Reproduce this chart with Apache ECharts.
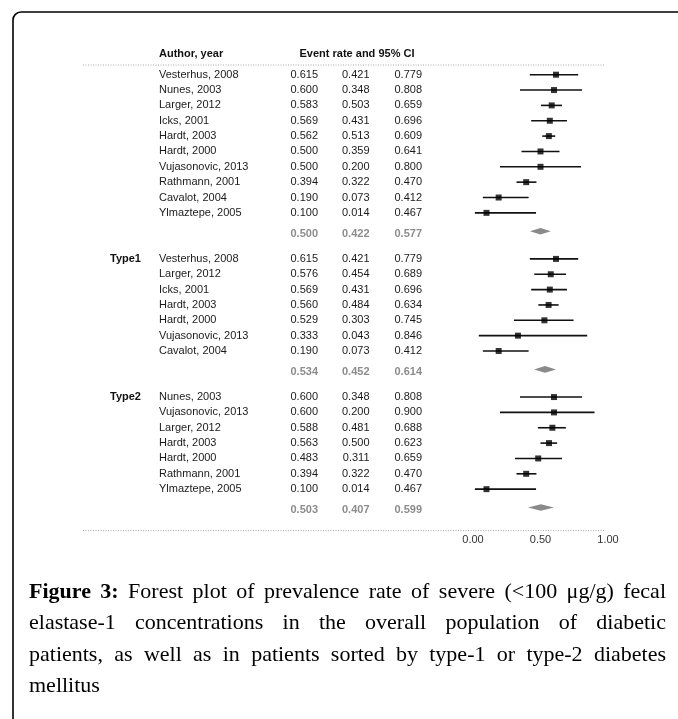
<!DOCTYPE html>
<html>
<head>
<meta charset="utf-8">
<script src="https://cdn.jsdelivr.net/npm/echarts@6/dist/echarts.min.js"></script>
<style>
  html, body { margin: 0; padding: 0; background: #fff; }
  #chart { width: 678px; height: 719px; }
</style>
</head>
<body>
<div id="chart"></div>
<script>
// overall population
const overallAuthors = ["Vesterhus, 2008", "Nunes, 2003", "Larger, 2012", "Icks, 2001", "Hardt, 2003",
  "Hardt, 2000", "Vujasonovic, 2013", "Rathmann, 2001", "Cavalot, 2004", "Ylmaztepe, 2005"];
const overallRate = [0.615, 0.600, 0.583, 0.569, 0.562, 0.500, 0.500, 0.394, 0.190, 0.100];
const overallLower = [0.421, 0.348, 0.503, 0.431, 0.513, 0.359, 0.200, 0.322, 0.073, 0.014];
const overallUpper = [0.779, 0.808, 0.659, 0.696, 0.609, 0.641, 0.800, 0.470, 0.412, 0.467];
const overallSummary = [0.500, 0.422, 0.577];

// type 1
const type1Authors = ["Vesterhus, 2008", "Larger, 2012", "Icks, 2001", "Hardt, 2003", "Hardt, 2000",
  "Vujasonovic, 2013", "Cavalot, 2004"];
const type1Rate = [0.615, 0.576, 0.569, 0.560, 0.529, 0.333, 0.190];
const type1Lower = [0.421, 0.454, 0.431, 0.484, 0.303, 0.043, 0.073];
const type1Upper = [0.779, 0.689, 0.696, 0.634, 0.745, 0.846, 0.412];
const type1Summary = [0.534, 0.452, 0.614];

// type 2
const type2Authors = ["Nunes, 2003", "Vujasonovic, 2013", "Larger, 2012", "Hardt, 2003", "Hardt, 2000",
  "Rathmann, 2001", "Ylmaztepe, 2005"];
const type2Rate = [0.600, 0.600, 0.588, 0.563, 0.483, 0.394, 0.100];
const type2Lower = [0.348, 0.200, 0.481, 0.500, 0.311, 0.322, 0.014];
const type2Upper = [0.808, 0.900, 0.688, 0.623, 0.659, 0.470, 0.467];
const type2Summary = [0.503, 0.407, 0.599];

const groupLabels = ["", "Type1", "Type2"];
const headers = ["Author, year", "Event rate and 95% CI"];
const xTicks = [0, 0.5, 1];

const captionLines = [
  "Figure 3: Forest plot of prevalence rate of severe (<100 μg/g) fecal",
  "elastase-1 concentrations in the overall population of diabetic",
  "patients, as well as in patients sorted by type-1 or type-2 diabetes",
  "mellitus"
];

const groups = [
  { label: groupLabels[0], authors: overallAuthors, rate: overallRate, lower: overallLower, upper: overallUpper, summary: overallSummary },
  { label: groupLabels[1], authors: type1Authors, rate: type1Rate, lower: type1Lower, upper: type1Upper, summary: type1Summary },
  { label: groupLabels[2], authors: type2Authors, rate: type2Rate, lower: type2Lower, upper: type2Upper, summary: type2Summary }
];

// lay the groups out on row numbers
const studyRows = [];
const summaryRows = [];
let row = 0;
groups.forEach(g => {
  g.authors.forEach((a, i) => {
    studyRows.push({ row: row + i, group: i === 0 ? g.label : "", author: a,
      rate: g.rate[i], lower: g.lower[i], upper: g.upper[i] });
  });
  const last = row + g.authors.length - 1;
  summaryRows.push({ row: last + 1.2, textRow: last + 1.38,
    rate: g.summary[0], lower: g.summary[1], upper: g.summary[2] });
  row = last + 3;
});

const Y_MIN = -2, Y_MAX = 29.7;
const fmt = v => v.toFixed(3);

// table items: header, rules, study rows, summary rows
const tableItems = [{ kind: "header", row: -1.35 }, { kind: "rule", row: -0.63 }, { kind: "rule", row: Y_MAX }]
  .concat(studyRows.map(r => Object.assign({ kind: "study" }, r)))
  .concat(summaryRows.map(s => Object.assign({ kind: "summary" }, s, { row: s.textRow })));

const FONT = '"Liberation Sans", Arial, sans-serif';
const COL = { group: 110, author: 159, rate: 318, lower: 369.5, upper: 422 };

function txt(x, y, text, opt) {
  return {
    type: "text", x: x, y: y,
    style: Object.assign({ text: text, fill: "#1a1a1a", font: "11px " + FONT, verticalAlign: "middle", align: "left" }, opt || {})
  };
}

function renderTable(params, api) {
  const it = tableItems[params.dataIndex];
  const y = api.coord([0, it.row])[1];
  if (it.kind === "rule") {
    return { type: "line", shape: { x1: 83, y1: y, x2: 605, y2: y },
      style: { stroke: "#a8a8a8", lineWidth: 1, lineDash: [1, 1.5] } };
  }
  if (it.kind === "header") {
    return { type: "group", children: [
      txt(COL.author, y, headers[0], { font: "bold 11px " + FONT, fill: "#111" }),
      txt(357, y, headers[1], { font: "bold 11px " + FONT, fill: "#111", align: "center" })
    ] };
  }
  if (it.kind === "summary") {
    const o = { font: "bold 11px " + FONT, fill: "#8c8c8c", align: "right" };
    return { type: "group", children: [
      txt(COL.rate, y, fmt(it.rate), o),
      txt(COL.lower, y, fmt(it.lower), o),
      txt(COL.upper, y, fmt(it.upper), o)
    ] };
  }
  const kids = [
    txt(COL.author, y, it.author),
    txt(COL.rate, y, fmt(it.rate), { align: "right" }),
    txt(COL.lower, y, fmt(it.lower), { align: "right" }),
    txt(COL.upper, y, fmt(it.upper), { align: "right" })
  ];
  if (it.group) kids.push(txt(COL.group, y, it.group, { font: "bold 11px " + FONT, fill: "#111" }));
  return { type: "group", children: kids };
}

// justified caption built from words
function captionGraphics() {
  const ctx = document.createElement("canvas").getContext("2d");
  const size = 22;
  const left = 29, right = 666;
  const lineY = [592, 623.5, 655, 686.5];
  const out = [];
  captionLines.forEach((line, li) => {
    const words = line.split(" ").map((w, wi) => ({ w: w, bold: li === 0 && wi < 2 }));
    words.forEach(o => {
      o.font = (o.bold ? "bold " : "") + size + 'px "Liberation Serif", "Times New Roman", serif';
      ctx.font = o.font;
      o.width = ctx.measureText(o.w).width;
    });
    const total = words.reduce((s, o) => s + o.width, 0);
    let gap = size * 0.25;
    if (li < captionLines.length - 1 && words.length > 1) {
      gap = Math.max(2, (right - left - total) / (words.length - 1));
    }
    let x = left;
    words.forEach(o => {
      out.push({ type: "text", x: x, y: lineY[li],
        style: { text: o.w, font: o.font, fill: "#000", verticalAlign: "middle" } });
      x += o.width + gap;
    });
  });
  return out;
}

const chart = echarts.init(document.getElementById("chart"));

const option = {
  animation: false,
  grid: { left: 473, right: 70, top: 44, bottom: 188.4 },
  xAxis: {
    type: "value", min: xTicks[0], max: xTicks[xTicks.length - 1], interval: 0.5,
    axisLine: { show: false }, axisTick: { show: false }, splitLine: { show: false },
    axisLabel: { color: "#333", fontSize: 11, fontFamily: FONT, margin: 4,
      formatter: v => v.toFixed(2) }
  },
  yAxis: {
    type: "value", min: Y_MIN, max: Y_MAX, inverse: true, show: false
  },
  graphic: [
    { type: "rect", x: 13, y: 12, shape: { width: 720, height: 760, r: 8 },
      style: { fill: "none", stroke: "#000", lineWidth: 1.6 } }
  ].concat(captionGraphics()),
  series: [
    {
      name: "table", type: "custom", clip: false,
      data: tableItems.map(it => [0, it.row]),
      encode: { x: 0, y: 1 },
      renderItem: renderTable
    },
    {
      name: "ci", type: "custom",
      data: studyRows.map(r => [r.lower, r.upper, r.row]),
      encode: { x: [0, 1], y: 2 },
      renderItem: (params, api) => {
        const p1 = api.coord([api.value(0), api.value(2)]);
        const p2 = api.coord([api.value(1), api.value(2)]);
        return { type: "line", shape: { x1: p1[0], y1: p1[1], x2: p2[0], y2: p2[1] },
          style: { stroke: "#111", lineWidth: 1.6 } };
      }
    },
    {
      name: "estimate", type: "scatter", symbol: "rect", symbolSize: 6,
      data: studyRows.map(r => [r.rate, r.row]),
      itemStyle: { color: "#000" }, z: 4
    },
    {
      name: "summary", type: "custom",
      data: summaryRows.map(s => [s.lower, s.rate, s.upper, s.row]),
      encode: { x: [0, 1, 2], y: 3 },
      renderItem: (params, api) => {
        const l = api.coord([api.value(0), api.value(3)]);
        const m = api.coord([api.value(1), api.value(3)]);
        const u = api.coord([api.value(2), api.value(3)]);
        return { type: "polygon",
          shape: { points: [[l[0], l[1]], [m[0], m[1] - 3.3], [u[0], u[1]], [m[0], m[1] + 3.3]] },
          style: { fill: "#8a8a8a" } };
      }
    }
  ]
};

chart.setOption(option);
window.addEventListener("resize", () => chart.resize());
</script>
</body>
</html>
